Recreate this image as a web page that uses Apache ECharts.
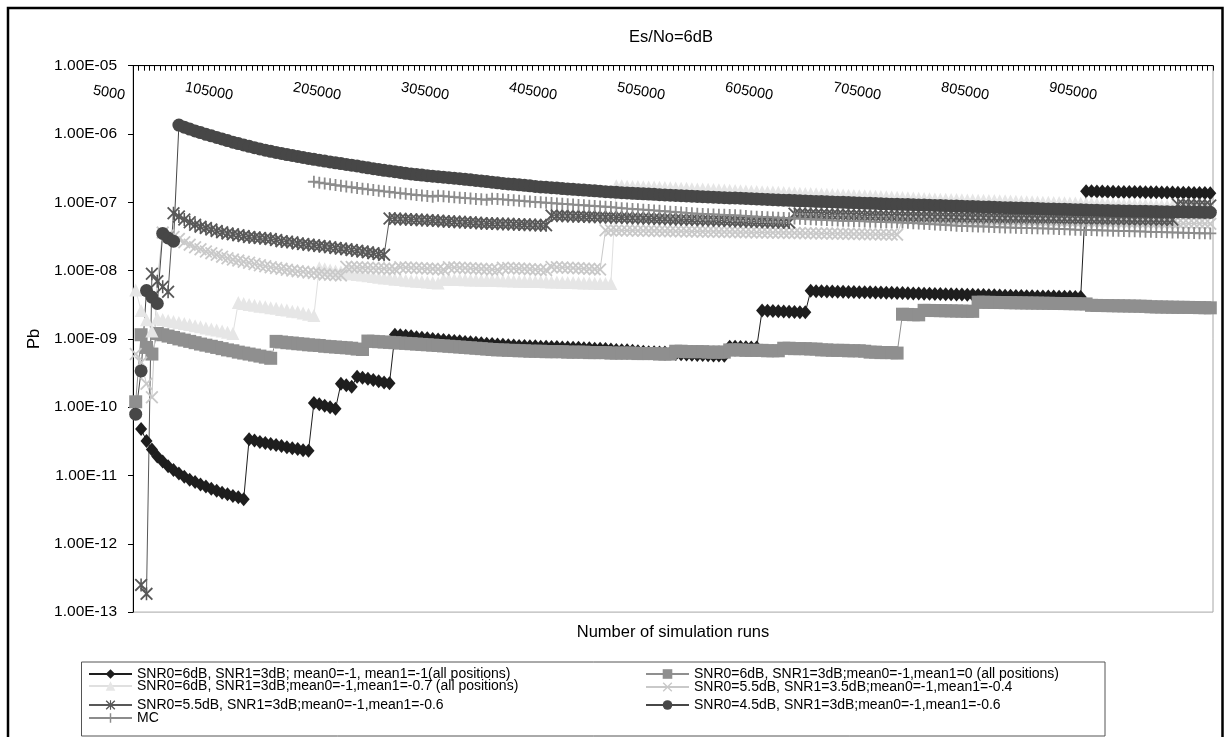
<!DOCTYPE html>
<html><head><meta charset="utf-8">
<script src="https://cdn.jsdelivr.net/npm/echarts@6/dist/echarts.min.js"></script>
<style>html,body{margin:0;padding:0;background:#fff}#c{width:1229px;height:737px}</style>
</head><body><div id="c"></div>
<script>
const FONT = '"Liberation Sans", Arial, sans-serif';

// categories: number of simulation runs
const categories = [];
for (let r = 5000; r <= 1000000; r += 5000) categories.push(String(r));

const seriesNames = [
  'SNR0=6dB, SNR1=3dB; mean0=-1, mean1=-1(all positions)',
  'SNR0=6dB, SNR1=3dB;mean0=-1,mean1=0 (all positions)',
  'SNR0=6dB, SNR1=3dB;mean0=-1,mean1=-0.7 (all positions)',
  'SNR0=5.5dB, SNR1=3.5dB;mean0=-1,mean1=-0.4',
  'SNR0=5.5dB, SNR1=3dB;mean0=-1,mean1=-0.6',
  'SNR0=4.5dB, SNR1=3dB;mean0=-1,mean1=-0.6',
  'MC'
];

const diamond = [
 null,4.8e-11,3.2e-11,2.4e-11,1.9e-11,1.6e-11,1.37e-11,1.2e-11,1.07e-11,9.6e-12,
 8.7e-12,8.0e-12,7.4e-12,6.9e-12,6.4e-12,6.0e-12,5.6e-12,5.3e-12,5.0e-12,4.8e-12,
 4.5e-12,3.4e-11,3.25e-11,3.1e-11,3.0e-11,2.9e-11,2.8e-11,2.7e-11,2.6e-11,2.5e-11,
 2.45e-11,2.35e-11,2.3e-11,1.15e-10,1.1e-10,1.05e-10,1.0e-10,9.5e-11,2.2e-10,2.1e-10,
 2.0e-10,2.8e-10,2.7e-10,2.6e-10,2.5e-10,2.4e-10,2.3e-10,2.25e-10,1.15e-9,1.13e-9,
 1.11e-9,1.09e-9,1.06e-9,1.04e-9,1.02e-9,1.0e-9,9.8e-10,9.6e-10,9.5e-10,9.3e-10,
 9.2e-10,9.0e-10,8.9e-10,8.8e-10,8.6e-10,8.5e-10,8.4e-10,8.3e-10,8.2e-10,8.1e-10,
 8.0e-10,7.9e-10,7.9e-10,7.8e-10,7.8e-10,7.7e-10,7.7e-10,7.6e-10,7.6e-10,7.5e-10,
 7.5e-10,7.4e-10,7.4e-10,7.3e-10,7.3e-10,7.2e-10,7.2e-10,7.1e-10,7.0e-10,6.9e-10,
 6.8e-10,6.8e-10,6.7e-10,6.6e-10,6.5e-10,6.4e-10,6.4e-10,6.3e-10,6.3e-10,6.2e-10,
 6.0e-10,5.95e-10,5.9e-10,5.85e-10,5.8e-10,5.8e-10,5.75e-10,5.7e-10,5.7e-10,5.65e-10,
 7.7e-10,7.65e-10,7.6e-10,7.55e-10,7.5e-10,7.5e-10,2.6e-9,2.58e-9,2.56e-9,2.54e-9,
 2.52e-9,2.5e-9,2.48e-9,2.46e-9,2.45e-9,5.05e-9,5.0e-9,4.98e-9,4.96e-9,4.94e-9,
 4.92e-9,4.9e-9,4.88e-9,4.86e-9,4.84e-9,4.82e-9,4.8e-9,4.78e-9,4.76e-9,4.74e-9,
 4.72e-9,4.7e-9,4.68e-9,4.66e-9,4.64e-9,4.62e-9,4.6e-9,4.58e-9,4.56e-9,4.54e-9,
 4.52e-9,4.5e-9,4.48e-9,4.46e-9,4.44e-9,4.42e-9,4.4e-9,4.38e-9,4.36e-9,4.34e-9,
 4.32e-9,4.3e-9,4.28e-9,4.26e-9,4.24e-9,4.22e-9,4.2e-9,4.19e-9,4.18e-9,4.17e-9,
 4.16e-9,4.15e-9,4.14e-9,4.13e-9,4.12e-9,4.1e-9,1.45e-7,1.45e-7,1.44e-7,1.44e-7,
 1.43e-7,1.43e-7,1.42e-7,1.42e-7,1.41e-7,1.41e-7,1.41e-7,1.4e-7,1.4e-7,1.4e-7,
 1.39e-7,1.39e-7,1.39e-7,1.38e-7,1.38e-7,1.38e-7,1.37e-7,1.37e-7,1.37e-7,1.36e-7
];

const square = [
 1.2e-10,1.15e-9,7.5e-10,6.0e-10,1.2e-9,1.15e-9,1.1e-9,1.05e-9,1.0e-9,9.6e-10,
 9.2e-10,8.8e-10,8.4e-10,8.1e-10,7.8e-10,7.5e-10,7.2e-10,6.9e-10,6.7e-10,6.4e-10,
 6.2e-10,6.0e-10,5.8e-10,5.6e-10,5.4e-10,5.2e-10,9.2e-10,9.0e-10,8.8e-10,8.7e-10,
 8.5e-10,8.4e-10,8.2e-10,8.1e-10,8.0e-10,7.8e-10,7.7e-10,7.6e-10,7.5e-10,7.4e-10,
 7.3e-10,7.1e-10,7.0e-10,9.3e-10,9.2e-10,9.1e-10,9.0e-10,8.9e-10,8.8e-10,8.7e-10,
 8.6e-10,8.5e-10,8.4e-10,8.3e-10,8.2e-10,8.1e-10,8.0e-10,7.9e-10,7.8e-10,7.7e-10,
 7.6e-10,7.5e-10,7.4e-10,7.3e-10,7.2e-10,7.1e-10,7.0e-10,6.9e-10,6.9e-10,6.8e-10,
 6.8e-10,6.7e-10,6.7e-10,6.6e-10,6.6e-10,6.6e-10,6.5e-10,6.5e-10,6.5e-10,6.5e-10,
 6.4e-10,6.4e-10,6.4e-10,6.4e-10,6.3e-10,6.3e-10,6.3e-10,6.3e-10,6.2e-10,6.2e-10,
 6.2e-10,6.2e-10,6.2e-10,6.1e-10,6.1e-10,6.1e-10,6.1e-10,6.0e-10,6.0e-10,6.0e-10,
 6.6e-10,6.6e-10,6.5e-10,6.5e-10,6.5e-10,6.5e-10,6.4e-10,6.4e-10,6.4e-10,6.4e-10,
 6.9e-10,6.9e-10,6.9e-10,6.8e-10,6.8e-10,6.8e-10,6.8e-10,6.7e-10,6.7e-10,6.7e-10,
 7.3e-10,7.3e-10,7.2e-10,7.2e-10,7.2e-10,7.1e-10,7.1e-10,6.9e-10,6.9e-10,6.8e-10,
 6.8e-10,6.8e-10,6.7e-10,6.7e-10,6.7e-10,6.6e-10,6.4e-10,6.4e-10,6.3e-10,6.3e-10,
 6.3e-10,6.2e-10,2.3e-9,2.28e-9,2.26e-9,2.25e-9,2.62e-9,2.61e-9,2.6e-9,2.59e-9,
 2.58e-9,2.57e-9,2.56e-9,2.55e-9,2.54e-9,2.53e-9,3.45e-9,3.44e-9,3.43e-9,3.42e-9,
 3.41e-9,3.4e-9,3.39e-9,3.38e-9,3.37e-9,3.36e-9,3.35e-9,3.34e-9,3.33e-9,3.32e-9,
 3.31e-9,3.3e-9,3.29e-9,3.28e-9,3.27e-9,3.26e-9,3.25e-9,3.1e-9,3.09e-9,3.08e-9,
 3.07e-9,3.06e-9,3.05e-9,3.04e-9,3.03e-9,3.02e-9,3.01e-9,3.0e-9,2.95e-9,2.94e-9,
 2.93e-9,2.92e-9,2.91e-9,2.9e-9,2.9e-9,2.89e-9,2.88e-9,2.87e-9,2.86e-9,2.85e-9
];

const triangle = [
 5.2e-9,2.6e-9,1.9e-9,1.3e-9,2.0e-9,1.93e-9,1.86e-9,1.8e-9,1.74e-9,1.68e-9,
 1.62e-9,1.56e-9,1.5e-9,1.45e-9,1.4e-9,1.35e-9,1.3e-9,1.25e-9,1.2e-9,3.4e-9,
 3.3e-9,3.2e-9,3.1e-9,3.0e-9,2.95e-9,2.85e-9,2.8e-9,2.7e-9,2.65e-9,2.55e-9,
 2.5e-9,2.4e-9,2.3e-9,2.2e-9,1.1e-8,1.06e-8,1.02e-8,9.9e-9,9.6e-9,9.3e-9,
 9.0e-9,8.8e-9,8.6e-9,8.4e-9,8.2e-9,8.0e-9,7.8e-9,7.7e-9,7.5e-9,7.4e-9,
 7.2e-9,7.1e-9,7.0e-9,6.9e-9,6.8e-9,6.7e-9,6.6e-9,7.5e-9,7.45e-9,7.4e-9,
 7.4e-9,7.35e-9,7.3e-9,7.3e-9,7.25e-9,7.2e-9,7.2e-9,7.15e-9,7.1e-9,7.1e-9,
 7.05e-9,7.0e-9,7.0e-9,6.95e-9,6.9e-9,6.9e-9,6.85e-9,6.8e-9,6.8e-9,6.75e-9,
 6.7e-9,6.7e-9,6.65e-9,6.6e-9,6.6e-9,6.55e-9,6.5e-9,6.5e-9,6.5e-9,1.75e-7,
 1.74e-7,1.725e-7,1.71e-7,1.7e-7,1.69e-7,1.68e-7,1.67e-7,1.66e-7,1.65e-7,1.64e-7,
 1.625e-7,1.61e-7,1.6e-7,1.585e-7,1.57e-7,1.56e-7,1.55e-7,1.54e-7,1.525e-7,1.51e-7,
 1.5e-7,1.49e-7,1.48e-7,1.465e-7,1.45e-7,1.44e-7,1.43e-7,1.42e-7,1.41e-7,1.4e-7,
 1.39e-7,1.38e-7,1.37e-7,1.36e-7,1.35e-7,1.34e-7,1.33e-7,1.32e-7,1.31e-7,1.3e-7,
 1.29e-7,1.28e-7,1.27e-7,1.26e-7,1.25e-7,1.245e-7,1.24e-7,1.23e-7,1.22e-7,1.21e-7,
 1.2e-7,1.19e-7,1.18e-7,1.17e-7,1.16e-7,1.15e-7,1.14e-7,1.13e-7,1.12e-7,1.11e-7,
 1.105e-7,1.1e-7,1.095e-7,1.09e-7,1.085e-7,1.08e-7,1.075e-7,1.07e-7,1.065e-7,1.06e-7,
 1.055e-7,1.05e-7,1.045e-7,1.04e-7,1.03e-7,1.02e-7,1.015e-7,1.01e-7,1.005e-7,1.0e-7,
 9.95e-8,9.9e-8,9.85e-8,9.8e-8,9.75e-8,9.7e-8,9.65e-8,9.6e-8,9.55e-8,9.5e-8,
 9.45e-8,9.4e-8,9.35e-8,9.3e-8,9.25e-8,9.2e-8,9.15e-8,9.1e-8,9.05e-8,9.0e-8,
 8.96e-8,8.92e-8,8.88e-8,8.84e-8,8.8e-8,8.76e-8,8.72e-8,8.68e-8,8.64e-8,8.6e-8
];

const crossLight = [
 6.0e-10,4.5e-10,2.2e-10,1.4e-10,7e-9,3.6e-8,3.3e-8,3.1e-8,2.9e-8,2.6e-8,
 2.4e-8,2.2e-8,2.05e-8,1.9e-8,1.8e-8,1.7e-8,1.6e-8,1.52e-8,1.45e-8,1.4e-8,
 1.35e-8,1.3e-8,1.25e-8,1.2e-8,1.16e-8,1.12e-8,1.09e-8,1.06e-8,1.03e-8,1.0e-8,
 9.8e-9,9.6e-9,9.4e-9,9.2e-9,9.0e-9,8.8e-9,8.7e-9,8.6e-9,8.5e-9,1.14e-8,
 1.13e-8,1.12e-8,1.11e-8,1.1e-8,1.09e-8,1.08e-8,1.07e-8,1.06e-8,1.05e-8,1.12e-8,
 1.11e-8,1.1e-8,1.09e-8,1.08e-8,1.07e-8,1.06e-8,1.05e-8,1.04e-8,1.12e-8,1.11e-8,
 1.1e-8,1.09e-8,1.08e-8,1.07e-8,1.06e-8,1.05e-8,1.04e-8,1.03e-8,1.1e-8,1.09e-8,
 1.08e-8,1.07e-8,1.06e-8,1.05e-8,1.04e-8,1.03e-8,1.02e-8,1.13e-8,1.12e-8,1.11e-8,
 1.1e-8,1.09e-8,1.08e-8,1.07e-8,1.06e-8,1.05e-8,1.04e-8,3.9e-8,3.89e-8,3.88e-8,
 3.87e-8,3.86e-8,3.85e-8,3.84e-8,3.83e-8,3.82e-8,3.81e-8,3.8e-8,3.79e-8,3.78e-8,
 3.77e-8,3.76e-8,3.75e-8,3.74e-8,3.73e-8,3.72e-8,3.71e-8,3.7e-8,3.69e-8,3.68e-8,
 3.67e-8,3.66e-8,3.65e-8,3.64e-8,3.63e-8,3.62e-8,3.61e-8,3.6e-8,3.59e-8,3.58e-8,
 3.57e-8,3.56e-8,3.55e-8,3.54e-8,3.53e-8,3.52e-8,3.51e-8,3.5e-8,3.49e-8,3.48e-8,
 3.47e-8,3.46e-8,3.45e-8,3.44e-8,3.43e-8,3.42e-8,3.41e-8,3.4e-8,3.39e-8,3.38e-8,
 3.37e-8,3.36e-8,5.7e-8,5.68e-8,5.67e-8,5.65e-8,5.64e-8,5.62e-8,5.61e-8,5.59e-8,
 5.58e-8,5.56e-8,5.55e-8,5.53e-8,5.52e-8,5.5e-8,5.49e-8,5.47e-8,5.46e-8,5.44e-8,
 5.43e-8,5.41e-8,5.4e-8,5.38e-8,5.37e-8,5.35e-8,5.34e-8,5.32e-8,5.31e-8,5.29e-8,
 5.28e-8,5.26e-8,5.25e-8,5.23e-8,5.22e-8,5.2e-8,5.19e-8,5.17e-8,5.16e-8,5.14e-8,
 5.13e-8,5.11e-8,5.1e-8,5.08e-8,5.07e-8,5.05e-8,5.04e-8,5.02e-8,5.01e-8,4.99e-8,
 4.98e-8,4.96e-8,4.95e-8,4.93e-8,4.92e-8,4.9e-8,4.89e-8,4.87e-8,4.86e-8,4.84e-8
];

const star = [
 null,2.5e-13,1.85e-13,9e-9,7e-9,5.8e-9,4.9e-9,6.9e-8,6.2e-8,5.6e-8,
 5.1e-8,4.7e-8,4.4e-8,4.2e-8,4.0e-8,3.8e-8,3.65e-8,3.5e-8,3.4e-8,3.3e-8,
 3.2e-8,3.1e-8,3.05e-8,3.0e-8,2.95e-8,2.9e-8,2.8e-8,2.7e-8,2.65e-8,2.6e-8,
 2.5e-8,2.45e-8,2.4e-8,2.35e-8,2.3e-8,2.25e-8,2.2e-8,2.15e-8,2.1e-8,2.05e-8,
 2.0e-8,1.95e-8,1.9e-8,1.85e-8,1.8e-8,1.75e-8,1.7e-8,5.8e-8,5.75e-8,5.7e-8,
 5.65e-8,5.6e-8,5.55e-8,5.5e-8,5.45e-8,5.4e-8,5.35e-8,5.3e-8,5.25e-8,5.2e-8,
 5.15e-8,5.1e-8,5.05e-8,5.0e-8,4.95e-8,4.9e-8,4.88e-8,4.85e-8,4.82e-8,4.8e-8,
 4.77e-8,4.74e-8,4.71e-8,4.68e-8,4.65e-8,4.62e-8,4.6e-8,6.4e-8,6.36e-8,6.33e-8,
 6.3e-8,6.26e-8,6.23e-8,6.2e-8,6.16e-8,6.13e-8,6.1e-8,6.06e-8,6.03e-8,6.0e-8,
 5.97e-8,5.94e-8,5.91e-8,5.88e-8,5.85e-8,5.82e-8,5.79e-8,5.76e-8,5.73e-8,5.7e-8,
 5.67e-8,5.64e-8,5.61e-8,5.58e-8,5.55e-8,5.52e-8,5.49e-8,5.46e-8,5.43e-8,5.4e-8,
 5.37e-8,5.34e-8,5.31e-8,5.28e-8,5.25e-8,5.22e-8,5.19e-8,5.16e-8,5.14e-8,5.12e-8,
 5.1e-8,5.08e-8,6.8e-8,6.77e-8,6.74e-8,6.71e-8,6.68e-8,6.65e-8,6.62e-8,6.59e-8,
 6.56e-8,6.53e-8,6.5e-8,6.47e-8,6.44e-8,6.41e-8,6.38e-8,6.35e-8,6.32e-8,6.29e-8,
 6.26e-8,6.24e-8,6.22e-8,6.2e-8,6.18e-8,6.16e-8,6.14e-8,6.12e-8,6.1e-8,6.08e-8,
 6.06e-8,6.04e-8,6.02e-8,6.0e-8,5.98e-8,5.96e-8,5.94e-8,5.92e-8,5.9e-8,5.88e-8,
 5.87e-8,5.86e-8,5.85e-8,5.84e-8,5.83e-8,5.82e-8,5.81e-8,5.8e-8,5.79e-8,5.78e-8,
 5.77e-8,5.76e-8,5.75e-8,5.74e-8,5.73e-8,5.72e-8,5.71e-8,5.7e-8,5.69e-8,5.68e-8,
 5.67e-8,5.66e-8,5.65e-8,5.64e-8,5.63e-8,5.62e-8,5.61e-8,5.6e-8,5.59e-8,5.58e-8,
 5.57e-8,5.56e-8,5.55e-8,9.3e-8,9.25e-8,9.2e-8,9.15e-8,9.1e-8,9.05e-8,9.0e-8
];

const circle = [
 7.9e-11,3.4e-10,5.1e-9,4.1e-9,3.3e-9,3.5e-8,3.0e-8,2.7e-8,1.35e-6,1.26e-6,
 1.18e-6,1.11e-6,1.05e-6,9.9e-7,9.4e-7,8.9e-7,8.45e-7,8.0e-7,7.6e-7,7.25e-7,
 6.9e-7,6.6e-7,6.3e-7,6.05e-7,5.8e-7,5.58e-7,5.37e-7,5.18e-7,5.0e-7,4.84e-7,
 4.68e-7,4.53e-7,4.39e-7,4.26e-7,4.13e-7,4.01e-7,3.9e-7,3.79e-7,3.69e-7,3.59e-7,
 3.5e-7,3.41e-7,3.3e-7,3.2e-7,3.11e-7,3.02e-7,2.94e-7,2.87e-7,2.8e-7,2.73e-7,
 2.66e-7,2.6e-7,2.55e-7,2.5e-7,2.45e-7,2.41e-7,2.37e-7,2.33e-7,2.29e-7,2.25e-7,
 2.21e-7,2.17e-7,2.13e-7,2.09e-7,2.05e-7,2.01e-7,1.97e-7,1.93e-7,1.89e-7,1.86e-7,
 1.83e-7,1.8e-7,1.77e-7,1.74e-7,1.71e-7,1.68e-7,1.66e-7,1.64e-7,1.62e-7,1.59e-7,
 1.57e-7,1.55e-7,1.53e-7,1.51e-7,1.49e-7,1.47e-7,1.45e-7,1.43e-7,1.415e-7,1.4e-7,
 1.385e-7,1.37e-7,1.355e-7,1.34e-7,1.33e-7,1.32e-7,1.31e-7,1.295e-7,1.28e-7,1.27e-7,
 1.26e-7,1.25e-7,1.24e-7,1.23e-7,1.22e-7,1.21e-7,1.2e-7,1.19e-7,1.18e-7,1.17e-7,
 1.16e-7,1.155e-7,1.15e-7,1.14e-7,1.13e-7,1.12e-7,1.11e-7,1.1e-7,1.09e-7,1.08e-7,
 1.075e-7,1.07e-7,1.06e-7,1.05e-7,1.045e-7,1.04e-7,1.03e-7,1.025e-7,1.02e-7,1.01e-7,
 1.005e-7,1.0e-7,9.9e-8,9.85e-8,9.8e-8,9.7e-8,9.65e-8,9.6e-8,9.5e-8,9.45e-8,
 9.4e-8,9.35e-8,9.3e-8,9.25e-8,9.2e-8,9.15e-8,9.1e-8,9.05e-8,9.0e-8,8.95e-8,
 8.9e-8,8.85e-8,8.8e-8,8.75e-8,8.7e-8,8.65e-8,8.6e-8,8.55e-8,8.5e-8,8.45e-8,
 8.4e-8,8.35e-8,8.3e-8,8.27e-8,8.23e-8,8.2e-8,8.15e-8,8.1e-8,8.05e-8,8.0e-8,
 7.96e-8,7.92e-8,7.88e-8,7.84e-8,7.8e-8,7.76e-8,7.72e-8,7.68e-8,7.64e-8,7.6e-8,
 7.57e-8,7.54e-8,7.51e-8,7.48e-8,7.45e-8,7.42e-8,7.4e-8,7.37e-8,7.34e-8,7.32e-8,
 7.3e-8,7.27e-8,7.24e-8,7.22e-8,7.2e-8,7.18e-8,7.16e-8,7.14e-8,7.12e-8,7.1e-8
];

// MC starts at category index 33 (170000 runs)
const mcStart = 33;
const mcValues = [
 2.0e-7,1.94e-7,1.89e-7,1.84e-7,1.79e-7,1.74e-7,1.7e-7,
 1.66e-7,1.62e-7,1.58e-7,1.55e-7,1.51e-7,1.48e-7,1.45e-7,1.42e-7,1.39e-7,1.36e-7,
 1.33e-7,1.31e-7,1.28e-7,1.26e-7,1.24e-7,1.21e-7,1.25e-7,1.23e-7,1.21e-7,1.19e-7,
 1.17e-7,1.155e-7,1.14e-7,1.12e-7,1.105e-7,1.09e-7,1.13e-7,1.115e-7,1.1e-7,1.085e-7,
 1.07e-7,1.055e-7,1.04e-7,1.025e-7,1.01e-7,1.0e-7,9.85e-8,9.75e-8,9.6e-8,9.5e-8,
 9.4e-8,9.25e-8,9.15e-8,9.05e-8,8.9e-8,8.8e-8,8.7e-8,8.6e-8,8.5e-8,8.35e-8,
 8.2e-8,8.1e-8,8.0e-8,7.9e-8,7.8e-8,7.7e-8,7.6e-8,7.5e-8,7.4e-8,7.3e-8,
 7.2e-8,7.1e-8,7.0e-8,6.9e-8,6.8e-8,6.75e-8,6.7e-8,6.65e-8,6.6e-8,6.55e-8,
 6.5e-8,6.45e-8,6.4e-8,6.3e-8,6.2e-8,6.15e-8,6.1e-8,6.05e-8,6.0e-8,5.95e-8,
 5.9e-8,5.85e-8,5.8e-8,5.75e-8,5.7e-8,5.65e-8,5.6e-8,5.55e-8,5.5e-8,5.45e-8,
 5.4e-8,5.35e-8,5.35e-8,5.3e-8,5.3e-8,5.25e-8,5.2e-8,5.2e-8,5.15e-8,5.15e-8,
 5.1e-8,5.1e-8,5.05e-8,5.0e-8,4.95e-8,4.9e-8,4.85e-8,4.8e-8,4.75e-8,4.7e-8,
 4.65e-8,4.6e-8,4.55e-8,4.5e-8,4.48e-8,4.46e-8,4.44e-8,4.42e-8,4.4e-8,4.35e-8,
 4.3e-8,4.28e-8,4.26e-8,4.24e-8,4.22e-8,4.2e-8,4.18e-8,4.16e-8,4.14e-8,4.12e-8,
 4.1e-8,4.07e-8,4.04e-8,4.01e-8,3.98e-8,3.96e-8,3.94e-8,3.92e-8,3.9e-8,3.88e-8,
 3.86e-8,3.84e-8,3.82e-8,3.8e-8,3.78e-8,3.76e-8,3.74e-8,3.72e-8,3.7e-8,3.68e-8,
 3.66e-8,3.64e-8,3.62e-8,3.6e-8,3.58e-8,3.56e-8,3.54e-8,3.52e-8,3.51e-8,3.5e-8
];
const mc = new Array(mcStart).fill(null).concat(mcValues);

const X_PATH = 'path://M0,1L1,0L5,4L9,0L10,1L6,5L10,9L9,10L5,6L1,10L0,9L4,5Z';
const STAR_PATH = 'path://M0,1L1,0L5,4L9,0L10,1L6,5L10,9L9,10L5,6L1,10L0,9L4,5ZM4.4,0L5.6,0L5.6,10L4.4,10Z';
const PLUS_PATH = 'path://M4.25,0L5.75,0L5.75,4.25L10,4.25L10,5.75L5.75,5.75L5.75,10L4.25,10L4.25,5.75L0,5.75L0,4.25L4.25,4.25Z';

function mk(name, data, symbol, size, color, lineColor) {
  return {
    name, type: 'line', data, symbol, symbolSize: size, showAllSymbol: true,
    clip: false, connectNulls: false, animation: false,
    itemStyle: { color: color, borderWidth: 0 },
    lineStyle: { color: lineColor || color, width: 1 },
    emphasis: { disabled: true }
  };
}

const series = [
  mk(seriesNames[0], diamond, 'diamond', [12, 14], '#1e1e1e'),
  mk(seriesNames[1], square, 'rect', 13, '#8f8f8f'),
  mk(seriesNames[2], triangle, 'triangle', 13, '#e6e6e6', '#e0e0e0'),
  mk(seriesNames[3], crossLight, X_PATH, 13, '#c9c9c9'),
  mk(seriesNames[4], star, STAR_PATH, 13, '#585858'),
  mk(seriesNames[5], circle, 'circle', 13, '#474747'),
  mk(seriesNames[6], mc, PLUS_PATH, 12, '#8c8c8c')
];

const legendPos = [[88,667],[645,667],[88,679],[645,680],[88,698],[645,698],[88,711]];
const legends = seriesNames.map((n, k) => ({
  data: [n], left: legendPos[k][0], top: legendPos[k][1],
  itemWidth: 43, itemHeight: 12, padding: 0, itemGap: 0, selectedMode: false,
  textStyle: { fontSize: 14, fontFamily: FONT, color: '#000' }
}));

const chart = echarts.init(document.getElementById('c'), null, { renderer: 'canvas' });
chart.setOption({
  animation: false,
  backgroundColor: '#fff',
  title: [
    { text: 'Es/No=6dB', left: 671, top: 29, padding: 0, textAlign: 'center',
      textStyle: { fontSize: 16.5, fontWeight: 'normal', fontFamily: FONT, color: '#000' } },
    { text: 'Number of simulation runs', left: 673, top: 624, padding: 0, textAlign: 'center',
      textStyle: { fontSize: 16.5, fontWeight: 'normal', fontFamily: FONT, color: '#000' } }
  ],
  grid: { left: 133, top: 65.7, width: 1080, height: 546.4, show: true, borderColor: '#a6a6a6', borderWidth: 1, containLabel: false },
  legend: legends,
  xAxis: {
    type: 'category', data: categories, position: 'top', boundaryGap: true,
    axisLine: { show: true, onZero: false, lineStyle: { color: '#000', width: 1 } },
    axisTick: { show: true, interval: 0, inside: true, length: 5, lineStyle: { color: '#000' } },
    axisLabel: { interval: 19, inside: true, rotate: 10, margin: 32, align: 'right', verticalAlign: 'middle',
      fontSize: 14.5, fontFamily: FONT, color: '#000', padding: [0, 11, 0, 0] },
    splitLine: { show: false }
  },
  yAxis: {
    type: 'log', logBase: 10, min: 1e-13, max: 1e-5, position: 'left',
    axisLine: { show: true, lineStyle: { color: '#000', width: 1 } },
    axisTick: { show: true, inside: false, length: 5, lineStyle: { color: '#000' } },
    minorTick: { show: false }, splitLine: { show: false },
    axisLabel: { fontSize: 15.5, fontFamily: FONT, color: '#000', margin: 16,
      formatter: function (v) { const e = Math.round(Math.log10(v)); return '1.00E' + (e < 0 ? '-' : '+') + String(Math.abs(e)).padStart(2, '0'); } },
    name: 'Pb', nameLocation: 'middle', nameGap: 88, nameRotate: 90,
    nameTextStyle: { fontSize: 16.5, fontFamily: FONT, color: '#000' }
  },
  graphic: [
    { type: 'rect', shape: { x: 8, y: 8, width: 1214.5, height: 800 }, style: { fill: 'none', stroke: '#000', lineWidth: 2.5 }, silent: true, z: 100 },
    { type: 'rect', shape: { x: 81.5, y: 662, width: 1023.5, height: 74 }, style: { fill: 'none', stroke: '#555', lineWidth: 1 }, silent: true }
  ],
  series: series
});
</script>
</body></html>
